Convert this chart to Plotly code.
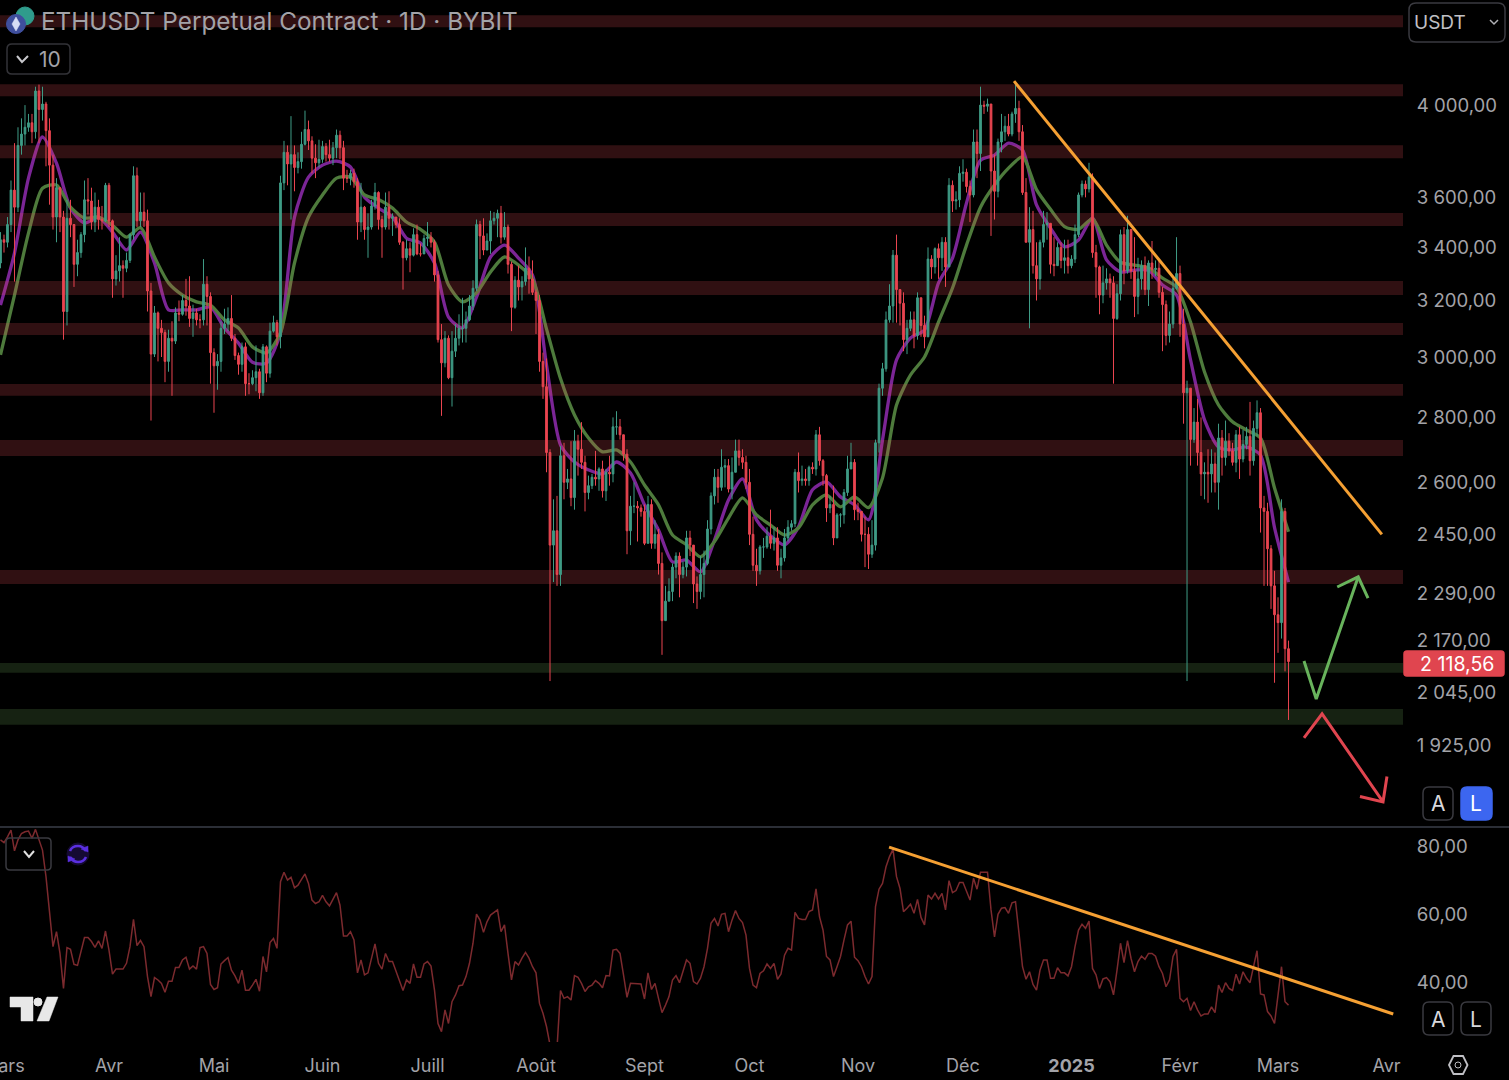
import pandas as pd
import plotly.graph_objects as go

# daily candles, 2024-03-01 to 2025-03-04
first_open = 3340
closes = [
    3430,3420,3490,3630,3560,3820,3870,3900,3920,3880,4065,3980,4005,3885,3735,3520,3640,3520,3160,3515,3490,3335,3380,3450,3590,3585,3500,3560,3510,3505,3650,
    3505,3280,3310,3330,3320,3350,3450,3690,3505,3540,3505,3235,3010,3155,3100,3085,2985,3065,3055,3155,3150,3200,3180,3135,3155,3130,3130,3260,3215,3015,
    2970,2985,3100,3115,3135,3065,3005,2975,3035,2910,2910,2930,2950,2880,3035,2945,3090,3120,3070,3660,3790,3740,3780,3725,3750,3825,3890,3840,3765,3745,3760,
    3815,3780,3765,3810,3865,3810,3680,3680,3700,3665,3500,3560,3470,3480,3565,3620,3510,3480,3560,3515,3520,3490,3420,3360,3395,3370,3450,3375,3375,3435,
    3440,3420,3295,3060,2980,3065,2930,3020,3065,3100,3100,3130,3180,3245,3490,3445,3390,3425,3505,3515,3535,3440,3480,3335,3175,3275,3250,3270,3320,3280,3230,
    3200,2985,2900,2690,2420,2460,2340,2680,2600,2610,2555,2725,2700,2660,2570,2590,2615,2610,2640,2575,2630,2625,2770,2770,2745,2685,2460,2530,2530,2525,2515,
    2425,2535,2425,2450,2370,2220,2270,2295,2360,2390,2340,2360,2440,2420,2315,2295,2340,2370,2465,2560,2615,2585,2645,2650,2580,2630,2695,2675,2660,2600,
    2450,2365,2350,2415,2415,2445,2425,2440,2365,2385,2440,2470,2480,2630,2605,2610,2605,2645,2640,2745,2665,2620,2525,2535,2440,2505,2505,2570,2640,2660,2520,
    2515,2450,2450,2395,2420,2720,2895,2960,3130,3180,3370,3240,3190,3060,3100,3130,3075,3210,3110,3070,3355,3325,3395,3360,3420,3325,3650,3585,3590,3700,
    3705,3645,3610,3835,3785,4000,3995,4005,3710,3625,3835,3880,3905,3870,3960,3985,3880,3620,3420,3470,3330,3280,3420,3490,3495,3335,3330,3400,3350,3360,3330,
    3355,3450,3610,3655,3635,3685,3380,3325,3220,3265,3280,3265,3135,3225,3450,3310,3470,3310,3215,3280,3330,3240,3340,3315,3320,3230,3185,3075,3115,3245,3300,
    3115,2880,2895,2730,2785,2690,2625,2630,2625,2655,2600,2735,2675,2725,2695,2660,2745,2670,2715,2740,2665,2765,2815,2525,2515,2410,2310,2235,
    2215,2515,2150,2118.56,
]
highs = [
    3460,3450,3520,3670,3830,3900,3940,4000,3960,3960,4085,4095,4085,4015,3940,3780,3680,3640,3545,3590,3590,3490,3430,3460,3670,3680,3640,3620,3590,3565,3660,
    3660,3510,3370,3440,3350,3380,3455,3730,3725,3620,3620,3550,3265,3180,3160,3130,3095,3095,3125,3175,3200,3220,3280,3290,3185,3170,3150,3355,3290,3230,
    3030,3010,3125,3170,3175,3220,3080,3015,3050,3050,2945,2955,3040,2960,3045,3040,3120,3145,3130,3690,3840,3820,3950,3820,3790,3880,3975,3930,3860,3825,3845,
    3840,3830,3845,3835,3890,3885,3840,3715,3715,3720,3680,3660,3565,3535,3590,3660,3625,3525,3620,3625,3535,3500,3515,3425,3430,3420,3475,3490,3415,3450,
    3500,3460,3430,3310,3115,3090,3075,3090,3115,3150,3210,3160,3220,3275,3510,3505,3515,3455,3545,3540,3550,3565,3540,3490,3345,3290,3330,3290,3400,3365,3350,
    3240,3220,3015,2995,2700,2550,2560,2710,2720,2640,2725,2760,2745,2785,2680,2620,2625,2695,2645,2665,2640,2680,2800,2820,2795,2700,2700,2560,2600,2545,2535,
    2535,2560,2550,2490,2465,2400,2310,2330,2370,2400,2400,2375,2460,2460,2420,2335,2390,2405,2490,2570,2640,2640,2700,2670,2670,2675,2730,2730,2700,2680,
    2640,2500,2410,2420,2440,2470,2520,2470,2470,2410,2465,2490,2490,2640,2690,2650,2640,2650,2660,2760,2770,2670,2625,2560,2590,2510,2510,2580,2680,2720,2670,
    2540,2515,2500,2470,2490,2730,2910,2980,3160,3260,3390,3450,3240,3230,3130,3160,3160,3230,3190,3145,3400,3370,3400,3415,3440,3440,3680,3670,3625,3730,
    3760,3720,3670,3890,3890,4085,4020,4030,4005,3780,3850,3960,3950,3960,3970,4110,4020,3910,3680,3560,3545,3420,3430,3545,3540,3495,3440,3420,3420,3430,3430,
    3370,3490,3620,3670,3670,3745,3700,3410,3330,3330,3320,3300,3290,3260,3470,3480,3525,3450,3440,3360,3350,3365,3350,3425,3350,3350,3250,3200,3160,3280,3440,
    3330,3170,2920,2890,2830,2860,2800,2660,2700,2700,2690,2780,2760,2790,2750,2720,2760,2770,2760,2770,2850,2790,2855,2830,2560,2540,2420,2350,
    2280,2550,2525,2170,
]
lows = [
    3320,3380,3400,3460,3270,3540,3780,3820,3880,3830,3850,3830,3930,3730,3570,3470,3420,3460,3060,3110,3440,3250,3290,3360,3420,3530,3470,3460,3470,3470,3500,
    3480,3210,3255,3270,3210,3305,3340,3430,3480,3480,3480,3160,2790,3000,2985,3000,2915,2950,2870,3045,3125,3145,3145,3105,3070,3110,3100,3110,3110,2910,
    2815,2890,2950,3080,3090,3055,2990,2940,2950,2870,2875,2905,2885,2860,2870,2915,2930,3085,3040,3030,3630,3650,3510,3625,3700,3720,3820,3800,3700,3680,3725,
    3745,3750,3750,3735,3765,3760,3630,3660,3650,3640,3430,3460,3430,3360,3470,3550,3470,3360,3470,3470,3445,3475,3410,3240,3350,3305,3365,3370,3365,3375,
    3405,3400,3270,3050,2805,2965,2925,2835,3000,3040,3050,3050,3125,3165,3235,3355,3370,3390,3375,3490,3440,3415,3430,3300,3090,3170,3200,3200,3255,3225,3220,
    3080,2950,2860,2630,2072,2320,2310,2310,2550,2580,2530,2520,2620,2640,2515,2550,2580,2590,2575,2555,2545,2590,2600,2745,2730,2665,2395,2420,2510,2430,2500,
    2420,2425,2410,2410,2340,2135,2220,2270,2270,2330,2280,2330,2335,2390,2265,2250,2275,2280,2365,2450,2535,2540,2575,2585,2570,2550,2630,2650,2640,2580,
    2420,2350,2310,2340,2385,2410,2410,2405,2350,2330,2375,2430,2460,2470,2570,2590,2590,2590,2625,2620,2650,2590,2485,2510,2420,2440,2470,2480,2560,2640,2490,
    2490,2430,2360,2355,2385,2405,2690,2870,2950,3120,3120,3120,3110,3020,3010,3090,3030,3060,3070,3030,3070,3280,3300,3280,3310,3250,3325,3540,3550,3560,
    3665,3620,3500,3600,3680,3710,3960,3970,3445,3510,3600,3790,3840,3860,3860,3920,3840,3610,3420,3100,3300,3200,3240,3400,3430,3300,3290,3330,3320,3300,3300,
    3320,3340,3440,3600,3600,3620,3360,3210,3150,3190,3240,3210,2910,3130,3200,3260,3300,3280,3140,3150,3240,3220,3180,3280,3290,3210,3020,3040,3050,3100,3240,
    3070,2780,2072,2650,2720,2650,2560,2550,2540,2570,2570,2520,2620,2650,2680,2650,2630,2610,2660,2700,2620,2650,2740,2455,2310,2310,2250,2068,
    2140,2175,2095,1982,
]

# moving averages, one reading every four days
ma_fast = [
    3183,3378,3680,3857,3743,3556,3496,3520,3460,3390,3460,3340,3166,3166,3166,3176,3101,3048,2982,2979,3084,3520,3684,3735,3752,3727,3601,3556,3520,3436,3417,
    3340,3140,3101,3212,3363,3409,3359,3294,2973,2713,2661,2637,2625,2661,2628,2534,2462,2374,2379,2347,2434,2548,2610,2491,2446,2421,2471,2578,2601,2557,2534,
    2491,2729,2990,3066,3094,3265,3359,3577,3756,3778,3830,3800,3569,3476,3402,3429,3516,3352,3306,3313,3313,3257,3220,2990,2792,2707,2698,2707,2682,2469,2320,
]
ma_slow = [
    3007,3220,3456,3638,3651,3560,3516,3520,3487,3440,3478,3363,3265,3220,3195,3183,3130,3101,3035,3014,3084,3340,3520,3610,3680,3684,3610,3591,3556,3500,3471,
    3421,3257,3195,3228,3306,3363,3332,3280,3098,2927,2808,2735,2692,2698,2661,2592,2534,2448,2421,2388,2430,2496,2554,2505,2476,2448,2468,2534,2563,2528,2557,
    2526,2613,2840,2939,3000,3122,3246,3409,3560,3651,3722,3770,3632,3551,3482,3471,3513,3409,3343,3332,3321,3283,3249,3122,2949,2840,2786,2760,2735,2583,2457,
]

# oscillator in the lower pane, daily
rsi = [
    81.8,81.0,82.7,84.7,78.6,81.8,83.7,84.2,84.4,82.3,84.9,81.8,78.8,71.0,61.2,50.4,54.8,48.4,38.1,50.1,49.6,45.2,44.9,48.9,53.1,53.1,51.9,50.2,52.1,49.9,55.0,
    49.4,42.3,43.8,43.8,43.8,45.5,50.4,58.4,50.7,52.2,50.4,41.6,35.7,41.3,40.6,39.6,37.0,40.2,40.2,44.3,44.3,46.5,47.3,43.8,44.7,43.8,50.1,50.4,48.4,39.3,
    37.8,38.3,45.3,46.3,47.2,43.5,41.8,39.6,43.5,37.6,37.6,39.1,40.8,37.3,47.5,43.0,51.6,52.8,49.9,69.5,72.3,70.0,70.8,67.7,68.5,70.2,71.8,69.0,64.1,63.1,63.6,
    65.5,63.6,62.4,64.3,66.3,62.6,53.5,53.5,54.8,52.4,42.7,46.5,42.1,42.7,47.0,51.2,45.5,43.8,48.4,46.0,46.0,43.3,40.6,37.5,40.6,39.6,45.3,41.4,41.4,45.3,
    46.0,44.7,37.6,27.8,25.4,31.8,27.8,34.2,36.2,38.9,39.1,41.6,45.5,51.4,60.0,58.2,54.6,57.7,59.7,60.4,61.2,54.8,56.8,48.4,40.6,46.0,45.0,47.0,48.7,47.0,44.5,
    42.7,33.7,30.8,26.9,21.5,21.0,20.5,37.5,35.2,35.7,34.7,41.9,41.4,39.6,37.2,38.6,39.1,40.4,39.6,38.3,41.9,41.8,49.4,49.6,48.4,42.1,35.5,39.6,39.6,39.5,39.4,
    35.0,42.7,37.8,39.6,35.2,31.0,33.2,35.7,40.6,41.9,39.8,43.5,46.5,45.5,40.1,39.4,41.1,44.5,49.9,57.3,58.7,56.5,59.9,60.2,54.8,58.2,61.0,58.7,57.5,53.8,44.0,
    39.1,38.3,42.5,43.3,45.3,44.0,45.5,40.8,42.4,47.9,49.9,49.4,60.5,58.7,58.4,58.4,60.7,61.2,67.4,59.2,55.3,47.5,46.5,41.6,44.5,47.5,52.4,56.8,57.9,47.3,
    46.3,44.5,41.6,39.4,41.6,62.2,67.3,69.0,73.9,76.9,79.0,71.0,67.5,60.7,61.7,62.9,60.2,64.3,59.0,56.8,65.6,64.4,66.1,64.4,66.1,61.2,69.8,66.3,66.9,69.3,69.3,
    66.6,64.1,70.5,67.3,72.3,72.3,72.3,61.2,53.3,59.9,61.7,61.9,60.2,63.3,63.6,54.3,44.5,40.8,43.0,39.3,37.6,43.5,46.5,46.5,41.1,41.1,44.2,42.7,42.7,41.8,44.5,
    50.4,55.3,57.0,55.8,57.9,44.0,42.1,38.1,40.9,41.3,40.1,36.2,43.5,51.4,45.7,52.2,47.0,43.0,46.0,47.6,46.7,48.4,48.4,47.6,44.5,42.5,38.6,40.6,47.5,49.6,
    35.2,34.2,35.2,31.6,34.2,31.8,30.0,30.6,30.6,32.7,31.0,39.1,36.9,39.8,38.1,37.5,42.3,39.4,43.0,41.1,39.8,44.5,49.2,36.5,36.2,31.3,30.0,27.8,36.7,44.5,34.2,33.2,
]

# horizontal zones (low, high price)
red_zones = [(4372,4433),(4041,4097),(3765,3821),(3484,3536),(3220,3272),(3076,3119),(2870,2909),(2679,2729),(2315,2352)]
green_zones = [(2092,2115),(1971,2007)]

# trend lines and projected paths (date, value)
price_trend_x = ["2024-12-15 14:00","2025-03-30 16:00"]
price_trend_y = [4111,2450]
rsi_trend_x = ["2024-11-09 21:00","2025-04-02 22:00"]
rsi_trend_y = [79.7,30.6]
up_path_x = ["2025-03-08 10:00","2025-03-11 22:00","2025-03-23 22:00",None,"2025-03-17 22:00","2025-03-23 22:00","2025-03-26 17:00"]
up_path_y = [2120,2030,2334,None,2307,2334,2278]
down_path_x = ["2025-03-08 10:00","2025-03-13 14:00","2025-03-31 00:00",None,"2025-03-24 10:00","2025-03-31 00:00","2025-04-01 03:00"]
down_path_y = [1942,1996,1805,None,1816,1805,1858]

price_ticks = [4000,3600,3400,3200,3000,2800,2600,2450,2290,2170,2045,1925]
price_labels = ["4 000,00","3 600,00","3 400,00","3 200,00","3 000,00","2 800,00","2 600,00","2 450,00","2 290,00","2 170,00","2 045,00","1 925,00"]
rsi_ticks = [80,60,40]
rsi_labels = ["80,00","60,00","40,00"]
month_ticks = ["2024-04-01","2024-05-01","2024-06-01","2024-07-01","2024-08-01","2024-09-01","2024-10-01","2024-11-01","2024-12-01","2025-01-01","2025-02-01","2025-03-01","2025-04-01"]
month_labels = ["Avr","Mai","Juin","Juill","Août","Sept","Oct","Nov","Déc","<b>2025</b>","Févr","Mars","Avr"]

X_RANGE = ["2024-02-29 20:40","2025-04-05 17:00"]
Y_RANGE = [3.2445,3.6542]  # log10 of about 1756 and 4510
FONT = "Inter"
LABEL = "#a3a3a8"
W, H = 1509, 1080

assert len(closes) == len(highs) == len(lows) == len(rsi)
dates = pd.date_range("2024-03-01", periods=len(closes), freq="D")
opens = [first_open] + closes[:-1]
ma_dates = dates[::4]


def px(x):
    return x / W


def py(y):
    return 1 - y / H


def poly(points, close=True):
    d = "M " + " L ".join(f"{px(x):.5f},{py(y):.5f}" for x, y in points)
    return d + " Z" if close else d


def rrect(x0, y0, x1, y1, r):
    # rounded box in screen pixels
    rx, ry = r / W, r / H
    a, b, c, d = px(x0), px(x1), py(y0), py(y1)
    return (f"M {a+rx},{c} L {b-rx},{c} Q {b},{c} {b},{c-ry} L {b},{d+ry} Q {b},{d} {b-rx},{d} "
            f"L {a+rx},{d} Q {a},{d} {a},{d+ry} L {a},{c-ry} Q {a},{c} {a+rx},{c} Z")


def path_shape(path, line=None, fill=None, width=1.5):
    return dict(type="path", path=path, xref="paper", yref="paper", layer="above",
                line=dict(color=line or "rgba(0,0,0,0)", width=width), fillcolor=fill or "rgba(0,0,0,0)")


def circle(cx, cy, r, fill, line=None):
    return dict(type="circle", xref="paper", yref="paper", layer="above",
                x0=px(cx - r), x1=px(cx + r), y0=py(cy + r), y1=py(cy - r),
                fillcolor=fill, line=dict(color=line or fill, width=1))


def text(x, y, s, size=19, color=LABEL, anchor="left", **kw):
    return dict(x=px(x), y=py(y), xref="paper", yref="paper", text=s, showarrow=False,
                xanchor=anchor, yanchor="middle", font=dict(family=FONT, size=size, color=color), **kw)


fig = go.Figure()

# averages sit on the base axes, the zones wash over them, candles go on the overlay
fig.add_trace(go.Scatter(x=ma_dates, y=ma_fast, mode="lines", line=dict(color="#7b2596", width=3.3, shape="spline", smoothing=0.7)))
fig.add_trace(go.Scatter(x=ma_dates, y=ma_slow, mode="lines", line=dict(color="#4e7b3c", width=3.3, shape="spline", smoothing=0.7)))
for zones, color in [(red_zones, "rgba(225,75,85,0.21)"), (green_zones, "rgba(110,170,90,0.2)")]:
    for lo, hi in zones:
        fig.add_trace(go.Scatter(x=[X_RANGE[0], X_RANGE[1], X_RANGE[1], X_RANGE[0]], y=[lo, lo, hi, hi], mode="lines",
                                 fill="toself", fillcolor=color, line=dict(width=0), hoverinfo="skip"))

fig.add_trace(go.Candlestick(x=dates, open=opens, high=[max(h, o, c) for h, o, c in zip(highs, opens, closes)],
                             low=[min(l, o, c) for l, o, c in zip(lows, opens, closes)], close=closes,
                             increasing=dict(line=dict(color="#3f9c86", width=1), fillcolor="#3f9c86"),
                             decreasing=dict(line=dict(color="#ea4550", width=1), fillcolor="#ea4550"),
                             xaxis="x3", yaxis="y3"))
fig.add_trace(go.Scatter(x=price_trend_x, y=price_trend_y, mode="lines", line=dict(color="#f5a033", width=3), xaxis="x3", yaxis="y3"))
fig.add_trace(go.Scatter(x=up_path_x, y=up_path_y, mode="lines", line=dict(color="#68b35c", width=3), xaxis="x3", yaxis="y3"))
fig.add_trace(go.Scatter(x=down_path_x, y=down_path_y, mode="lines", line=dict(color="#e0454f", width=3), xaxis="x3", yaxis="y3"))

fig.add_trace(go.Scatter(x=dates, y=rsi, mode="lines", line=dict(color="#7c2a2e", width=1.5), xaxis="x2", yaxis="y2"))
fig.add_trace(go.Scatter(x=rsi_trend_x, y=rsi_trend_y, mode="lines", line=dict(color="#f5a033", width=3), xaxis="x2", yaxis="y2"))

plot_right = 1403 / W
tick_font = dict(family=FONT, size=18.6, color=LABEL)

shapes = [
    dict(type="line", xref="paper", yref="paper", x0=0, x1=1, y0=py(827), y1=py(827), line=dict(color="#2b2e36", width=2), layer="above"),
    # legend and scale buttons
    path_shape(rrect(7, 44, 70, 74, 5), line="#333338"),
    path_shape(poly([(17, 56), (22, 62), (28, 56)], close=False), line="#c8c8cc", width=2),
    path_shape(rrect(1409, 3, 1505, 42, 7), line="#3a3a40"),
    path_shape(poly([(1490, 20), (1494, 24), (1498, 20)], close=False), line="#b0b0b5", width=1.5),
    path_shape(rrect(1423, 787, 1453, 820, 6), line="#3a3a40"),
    path_shape(rrect(1461, 787, 1492, 820, 6), fill="#3c66f0", line="#3c66f0"),
    path_shape(rrect(1423, 1002, 1453, 1035, 6), line="#3a3a40"),
    path_shape(rrect(1461, 1002, 1491, 1035, 6), line="#3a3a40"),
    path_shape(rrect(6, 838, 51, 870, 4), line="#3a3a40"),
    path_shape(poly([(24, 851), (29, 857), (34, 851)], close=False), line="#e0e0e0", width=2),
    # current price box
    path_shape(rrect(1404, 651, 1504, 676, 3), fill="#e0454f", line="#e0454f"),
    # symbol icons
    circle(25, 16, 9, "#2f9c8c"),
    circle(16, 24, 9.5, "#3f4f9e"),
    path_shape(poly([(16, 17), (20, 24), (16, 31), (12, 24)]), fill="#d7dcf5", line="#d7dcf5", width=0.5),
    # refresh icon
    circle(78, 854, 11, "#150a33"),
    path_shape(f"M {px(70)},{py(851)} Q {px(72)},{py(846)} {px(78)},{py(846)} Q {px(83)},{py(846)} {px(86)},{py(851)}", line="#5a2fe0", width=2.5),
    path_shape(f"M {px(86)},{py(857)} Q {px(84)},{py(862)} {px(78)},{py(862)} Q {px(73)},{py(862)} {px(70)},{py(857)}", line="#5a2fe0", width=2.5),
    path_shape(poly([(81, 849), (88, 852), (88, 846)]), fill="#5a2fe0", line="#5a2fe0", width=0.5),
    path_shape(poly([(75, 859), (68, 856), (68, 862)]), fill="#5a2fe0", line="#5a2fe0", width=0.5),
    # chart logo
    path_shape(poly([(10, 997), (33, 997), (33, 1021), (21, 1021), (21, 1007), (10, 1007)]), fill="#e8e8e8", line="#e8e8e8", width=0.5),
    circle(38, 1002, 4, "#e8e8e8"),
    path_shape(poly([(47, 997), (58, 997), (49, 1021), (37, 1021)]), fill="#e8e8e8", line="#e8e8e8", width=0.5),
    # settings icon
    path_shape(poly([(1449, 1065), (1453.5, 1056), (1463, 1056), (1467.5, 1065), (1463, 1074), (1453.5, 1074)]), line="#c0c0c5", width=1.8),
    circle(1458, 1065, 3, "rgba(0,0,0,0)", line="#c0c0c5"),
]

annotations = [
    text(38.5, 21, "ETHUSDT Perpetual Contract · 1D · BYBIT", size=24.3),
    text(37, 59.5, "10", size=21),
    text(1412, 22.5, "USDT", size=19, color="#c0c0c5"),
    text(1497, 663.5, "2 118,56", size=19.6, color="#ffffff", anchor="right"),
    text(1438, 803.5, "A", size=21, color="#d8d8dc", anchor="center"),
    text(1476, 803.5, "L", size=21, color="#ffffff", anchor="center"),
    text(1438, 1019, "A", size=21, color="#d8d8dc", anchor="center"),
    text(1476, 1019, "L", size=21, color="#d8d8dc", anchor="center"),
    # first month label runs off the left edge of the page
    text(3, 1065, "Mars", size=18, anchor="center"),
]

fig.update_layout(
    width=W, height=H, margin=dict(l=0, r=0, t=0, b=0),
    paper_bgcolor="#000000", plot_bgcolor="#000000", showlegend=False,
    shapes=shapes, annotations=annotations,
    xaxis=dict(domain=[0, plot_right], range=X_RANGE, type="date", showgrid=False, zeroline=False, showticklabels=False, ticks="", anchor="y"),
    yaxis=dict(domain=[py(826), 1], type="log", range=Y_RANGE, side="right", showgrid=False, zeroline=False, anchor="x",
               tickmode="array", tickvals=price_ticks, ticktext=price_labels, tickfont=tick_font,
               ticks="outside", ticklen=9, tickcolor="#000000", showline=False),
    xaxis2=dict(domain=[0, plot_right], range=X_RANGE, type="date", showgrid=False, zeroline=False, anchor="y2",
                tickmode="array", tickvals=month_ticks, ticktext=month_labels, tickangle=0,
                tickfont=dict(family=FONT, size=18, color=LABEL), ticks="outside", ticklen=7, tickcolor="#000000"),
    yaxis2=dict(domain=[py(1042), py(827)], range=[22.35, 85.6], side="right", showgrid=False, zeroline=False, anchor="x2",
                tickmode="array", tickvals=rsi_ticks, ticktext=rsi_labels, tickfont=tick_font,
                ticks="outside", ticklen=9, tickcolor="#000000"),
    xaxis3=dict(overlaying="x", range=X_RANGE, type="date", visible=False, rangeslider=dict(visible=False), anchor="y3"),
    yaxis3=dict(overlaying="y", type="log", range=Y_RANGE, visible=False, anchor="x3"),
)

fig.write_html("out.html", config=dict(displayModeBar=False), post_script="document.body.style.margin='0';")
